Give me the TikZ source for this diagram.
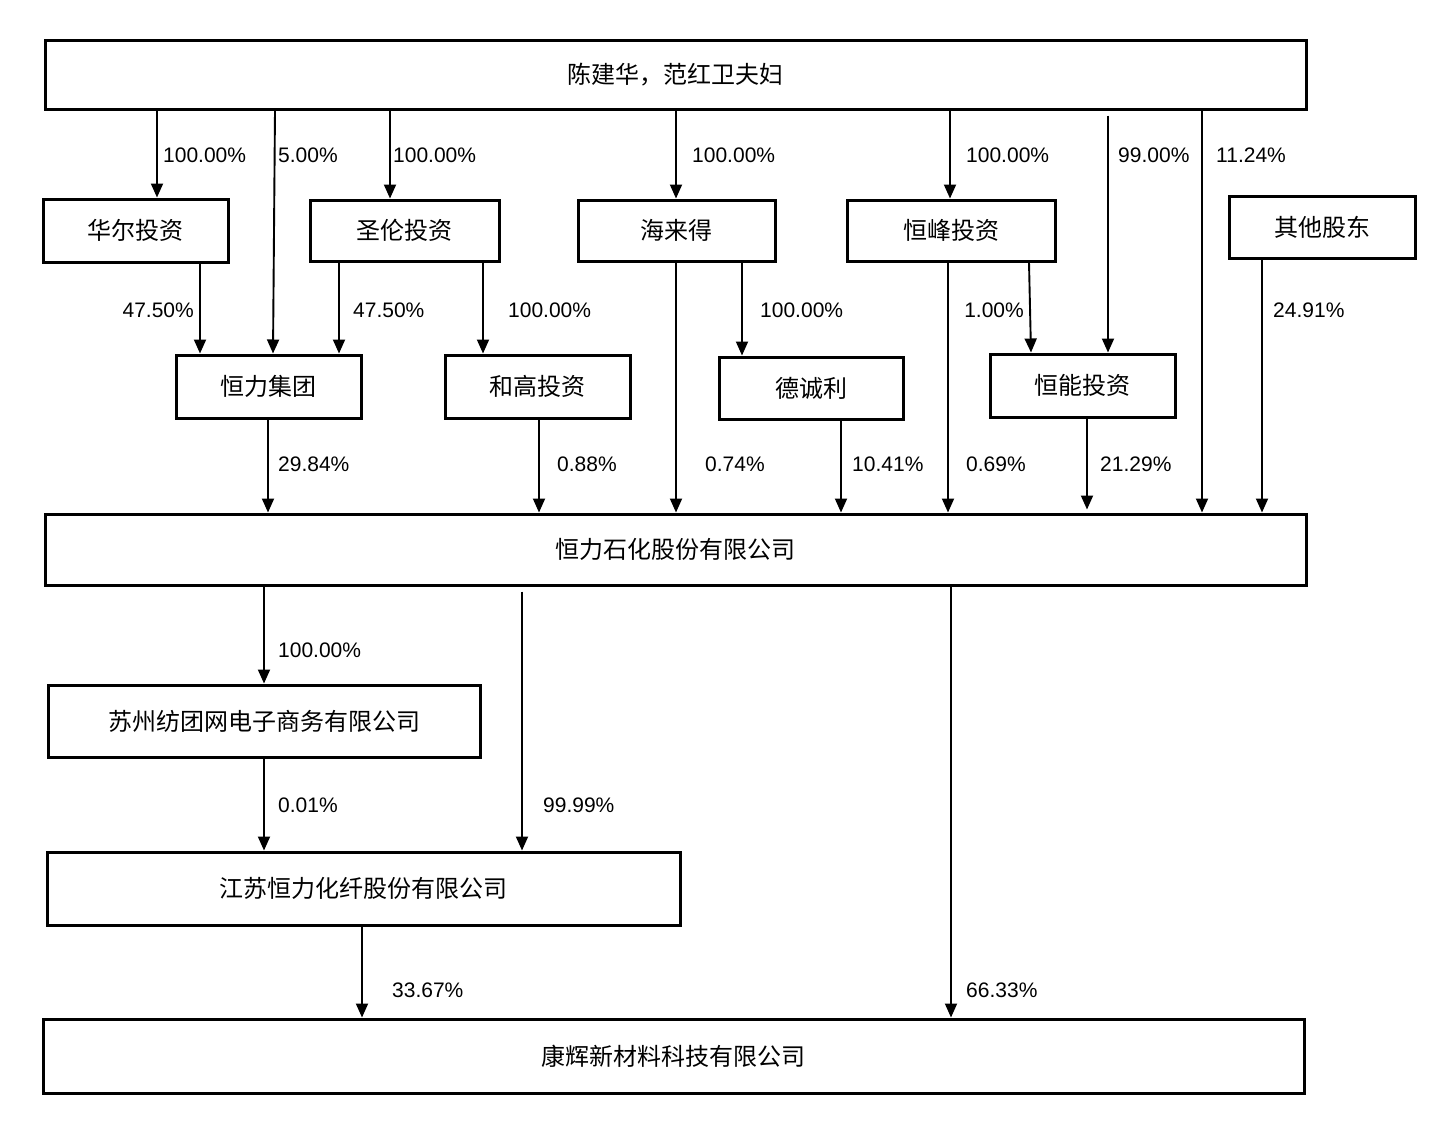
\documentclass[tikz,border=0pt]{standalone}
\usepackage{fontspec}
\setmainfont{Liberation Sans}
\newfontfamily\cjk{Noto Sans CJK SC}
\usetikzlibrary{arrows.meta, calc}

\tikzset{
  box/.style={draw, line width=3pt, inner sep=0pt, font=\cjk\fontsize{24}{28}\selectfont},
  arr/.style={line width=1.9pt, -{Triangle[length=14pt, width=12pt]}},
  pct/.style={anchor=west, inner sep=0pt, font=\fontsize{21}{24}\selectfont},
}

\begin{document}
\begin{tikzpicture}[x=1pt, y=-1pt]
    \useasboundingbox (0,0) rectangle (1440,1122);

    % 顶层
    \node[box, minimum width=1261pt, minimum height=69pt] (top) at (675.5,74.5) {陈建华，范红卫夫妇};

    % 第二层
    \node[box, minimum width=185pt, minimum height=63pt] (huaer) at (135.5,230.5) {华尔投资};
    \node[box, minimum width=189pt, minimum height=61pt] (shenglun) at (404.5,230.5) {圣伦投资};
    \node[box, minimum width=197pt, minimum height=61pt] (hailaide) at (676.5,230.5) {海来得};
    \node[box, minimum width=208pt, minimum height=61pt] (hengfeng) at (951,230.5) {恒峰投资};
    \node[box, minimum width=186pt, minimum height=62pt] (others) at (1322,227) {其他股东};

    % 第三层
    \node[box, minimum width=185pt, minimum height=63pt] (hlgroup) at (268.5,386.5) {恒力集团};
    \node[box, minimum width=185pt, minimum height=63pt] (hegao) at (537.5,386.5) {和高投资};
    \node[box, minimum width=184pt, minimum height=62pt] (dechengli) at (811,388) {德诚利};
    \node[box, minimum width=185pt, minimum height=63pt] (hengneng) at (1082.5,385.5) {恒能投资};

    % 恒力石化及下属
    \node[box, minimum width=1261pt, minimum height=71pt] (petro) at (675.5,549.5) {恒力石化股份有限公司};
    \node[box, minimum width=432pt, minimum height=72pt] (suzhou) at (264,721) {苏州纺团网电子商务有限公司};
    \node[box, minimum width=633pt, minimum height=73pt] (jiangsu) at (363.5,888.5) {江苏恒力化纤股份有限公司};
    \node[box, minimum width=1261pt, minimum height=74pt] (kanghui) at (673.5,1056) {康辉新材料科技有限公司};

    % 顶层 -> 第二层
    \draw[arr] (157,0 |- top.south) -- (157,0 |- huaer.north);
    \node[pct] (p1) at (163,155) {100.00\%};
    \draw[arr] (275,0 |- top.south) -- (273,0 |- hlgroup.north);
    \node[pct] (p2) at (278,155) {5.00\%};
    \draw[arr] (390,0 |- top.south) -- (390,0 |- shenglun.north);
    \node[pct] (p3) at (393,155) {100.00\%};
    \draw[arr] (676,0 |- top.south) -- (676,0 |- hailaide.north);
    \node[pct] (p4) at (692,155) {100.00\%};
    \draw[arr] (950,0 |- top.south) -- (950,0 |- hengfeng.north);
    \node[pct] (p5) at (966,155) {100.00\%};
    \draw[arr] ($(1108,0 |- top.south)+(0,5)$) -- (1108,0 |- hengneng.north);
    \node[pct] (p6) at (1118,155) {99.00\%};
    \draw[arr] (1202,0 |- top.south) -- (1202,0 |- petro.north);
    \node[pct] (p7) at (1216,155) {11.24\%};

    % 第二层 -> 第三层
    \draw[arr] (200,0 |- huaer.south) -- (200,0 |- hlgroup.north);
    \node[pct, anchor=east] (p8) at (194,310) {47.50\%};
    \draw[arr] (339,0 |- shenglun.south) -- (339,0 |- hlgroup.north);
    \node[pct] (p9) at (353,310) {47.50\%};
    \draw[arr] (483,0 |- shenglun.south) -- (483,0 |- hegao.north);
    \node[pct] (p10) at (508,310) {100.00\%};
    \draw[arr] (742,0 |- hailaide.south) -- (742,0 |- dechengli.north);
    \node[pct] (p11) at (760,310) {100.00\%};
    \draw[arr] (1029,0 |- hengfeng.south) -- (1031,0 |- hengneng.north);
    \node[pct, anchor=east] (p12) at (1024,310) {1.00\%};
    \draw[arr] (1262,0 |- others.south) -- (1262,0 |- petro.north);
    \node[pct] (p13) at (1273,310) {24.91\%};

    % -> 恒力石化
    \draw[arr] (268,0 |- hlgroup.south) -- (268,0 |- petro.north);
    \node[pct] (p14) at (278,464) {29.84\%};
    \draw[arr] (539,0 |- hegao.south) -- (539,0 |- petro.north);
    \node[pct] (p15) at (557,464) {0.88\%};
    \draw[arr] (676,0 |- hailaide.south) -- (676,0 |- petro.north);
    \node[pct] (p16) at (705,464) {0.74\%};
    \draw[arr] (841,0 |- dechengli.south) -- (841,0 |- petro.north);
    \node[pct] (p17) at (852,464) {10.41\%};
    \draw[arr] (948,0 |- hengfeng.south) -- (948,0 |- petro.north);
    \node[pct] (p18) at (966,464) {0.69\%};
    \draw[arr] (1087,0 |- hengneng.south) -- ($(1087,0 |- petro.north)+(0,-3)$);
    \node[pct] (p19) at (1100,464) {21.29\%};

    % 恒力石化 -> 下属
    \draw[arr] (264,0 |- petro.south) -- (264,0 |- suzhou.north);
    \node[pct] (p20) at (278,650) {100.00\%};
    \draw[arr] ($(522,0 |- petro.south)+(0,5)$) -- (522,0 |- jiangsu.north);
    \node[pct] (p21) at (543,805) {99.99\%};
    \draw[arr] (264,0 |- suzhou.south) -- (264,0 |- jiangsu.north);
    \node[pct] (p22) at (278,805) {0.01\%};
    \draw[arr] (362,0 |- jiangsu.south) -- (362,0 |- kanghui.north);
    \node[pct] (p23) at (392,990) {33.67\%};
    \draw[arr] (951,0 |- petro.south) -- (951,0 |- kanghui.north);
    \node[pct] (p24) at (966,990) {66.33\%};
\end{tikzpicture}
\end{document}
